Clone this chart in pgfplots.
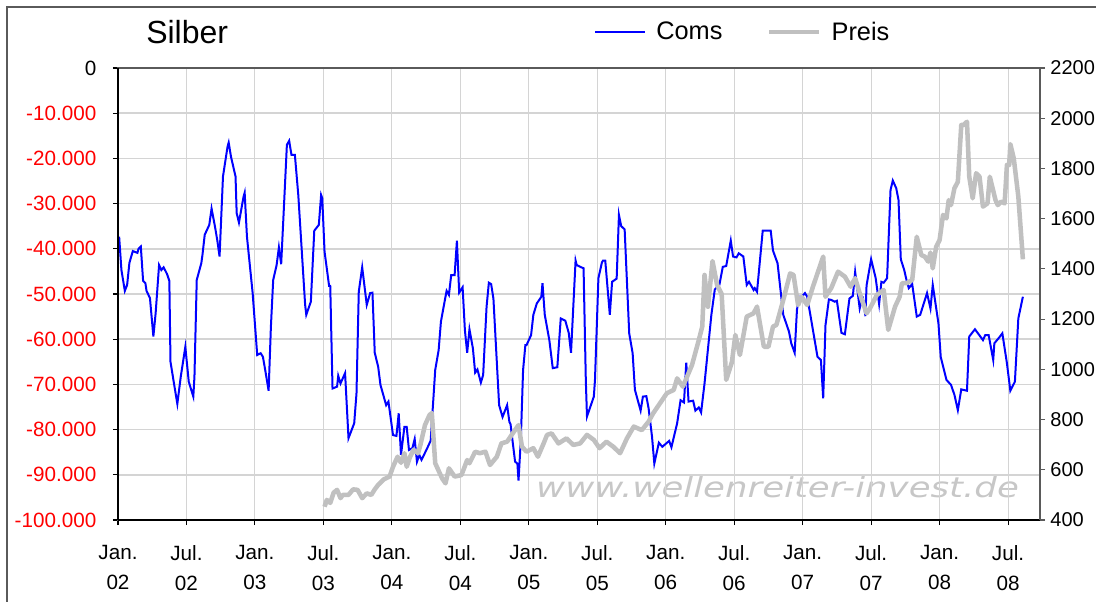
\documentclass[border=0pt]{standalone}
\usepackage{pgfplots}
\pgfplotsset{compat=1.18}
\usepackage{fontspec}
\setmainfont{Liberation Sans}
\newfontfamily\wmfont{DejaVu Sans}
\definecolor{gridgray}{RGB}{212,212,212}
\definecolor{preisgray}{RGB}{192,192,192}
\definecolor{framegray}{RGB}{90,90,90}

\begin{document}
\begin{tikzpicture}[x=0.75pt,y=0.75pt]
\useasboundingbox (0,0) rectangle (1096,601);
% outer chart frame
\draw[line width=1.3pt, framegray] (7,-20) -- (7,594) -- (1120,594);
\node[anchor=base west, inner sep=0pt, font=\fontsize{24}{28}\selectfont] at (146,557) {Silber};
\node[anchor=base, inner sep=0pt, transform shape, xscale=1.27, text=black!22,
      font=\wmfont\itshape\fontsize{21}{25}\selectfont] at (777.5,104) {www.wellenreiter-invest.de};

% Coms (left axis)
\begin{axis}[
  at={(88.5pt,60.75pt)}, anchor=south west,
  scale only axis, width=691.5pt, height=339pt,
  xmin=0, xmax=80.8, ymin=-100000, ymax=0,
  clip=false,
  xtick={0,6,...,78},
  xticklabels={{Jan.\\02},{Jul.\\02},{Jan.\\03},{Jul.\\03},{Jan.\\04},{Jul.\\04},{Jan.\\05},
    {Jul.\\05},{Jan.\\06},{Jul.\\06},{Jan.\\07},{Jul.\\07},{Jan.\\08},{Jul.\\08}},
  xticklabel style={align=center, font=\fontsize{15.5}{22.5}\selectfont, yshift=-12pt},
  ytick={-100000,-90000,...,0},
  yticklabels={\textcolor{red}{-100.000},\textcolor{red}{-90.000},\textcolor{red}{-80.000},
    \textcolor{red}{-70.000},\textcolor{red}{-60.000},\textcolor{red}{-50.000},
    \textcolor{red}{-40.000},\textcolor{red}{-30.000},\textcolor{red}{-20.000},
    \textcolor{red}{-10.000},0},
  yticklabel style={font=\fontsize{15.5}{18}\selectfont, xshift=-9pt},
  scaled y ticks=false,
  xmajorgrids, ymajorgrids,
  x grid style={gridgray, line width=0.75pt},
  y grid style={gridgray, line width=1.3pt},
  tick align=outside, xtick pos=left, ytick pos=left,
  major tick length=3.75pt,
  every tick/.style={black, line width=0.8pt},
  axis line style={draw=framegray, line width=0.8pt},
]
\addplot[blue, line width=1.5pt] coordinates {
(0.1,-37300)(0.3,-44700)(0.6,-49300)(0.8,-48000)(1.0,-43100)(1.3,-40500)(1.7,-40900)(1.8,-40000)
(2.0,-39500)(2.2,-47100)(2.4,-47600)(2.5,-49300)(2.8,-50900)(3.1,-59400)(3.3,-54200)(3.6,-43600)
(3.8,-44700)(4.0,-44100)(4.3,-45600)(4.5,-47100)(4.6,-65000)(4.9,-69700)(5.2,-74300)(5.5,-68300)
(5.9,-61700)(6.2,-69400)(6.6,-72700)(6.7,-68300)(6.9,-46900)(7.3,-43200)(7.4,-41400)(7.6,-36900)
(8.0,-34700)(8.2,-31100)(8.5,-35100)(8.7,-38100)(8.9,-41700)(9.2,-24000)(9.6,-17400)(9.7,-16500)
(9.9,-19600)(10.3,-24000)(10.4,-32100)(10.6,-34200)(11.0,-28500)(11.1,-27600)(11.3,-37300)(11.7,-47300)
(11.8,-49800)(12.2,-63500)(12.5,-63100)(12.7,-63900)(12.9,-66800)(13.2,-71400)(13.4,-57200)(13.6,-46900)
(13.9,-43600)(14.1,-39700)(14.3,-43400)(14.5,-32900)(14.8,-17000)(15.0,-16100)(15.2,-19200)(15.5,-19200)
(15.8,-28100)(16.4,-52400)(16.5,-54600)(16.9,-51700)(17.2,-36000)(17.6,-34700)(17.8,-28100)(17.9,-28800)
(18.1,-40600)(18.5,-48200)(18.6,-48200)(18.8,-70900)(19.2,-70500)(19.3,-68100)(19.5,-69800)(19.9,-67500)
(20.2,-81900)(20.7,-78600)(20.9,-72000)(21.1,-49500)(21.4,-44100)(21.8,-52400)(22.1,-49800)(22.3,-49700)
(22.5,-63000)(22.8,-66100)(23.0,-70100)(23.5,-74600)(23.7,-73800)(24.1,-81200)(24.4,-81400)(24.6,-76400)
(24.8,-85600)(25.1,-79400)(25.3,-79400)(25.5,-84500)(25.8,-84100)(26.0,-82100)(26.2,-87100)(26.4,-85600)
(26.6,-86700)(27.1,-84100)(27.3,-83000)(27.4,-82500)(27.8,-66800)(28.1,-62400)(28.3,-56100)(28.7,-50600)
(28.8,-49300)(29.0,-50200)(29.2,-45800)(29.5,-45800)(29.7,-38200)(29.9,-49700)(30.2,-48500)(30.4,-58000)
(30.6,-63000)(30.8,-57800)(31.1,-62000)(31.3,-67400)(31.5,-66700)(31.8,-69600)(32.0,-67900)(32.3,-52800)
(32.5,-47500)(32.7,-47800)(32.9,-51000)(33.4,-74600)(33.7,-77200)(34.1,-74600)(34.3,-78300)(34.4,-78800)
(34.6,-83000)(34.8,-87100)(35.0,-87500)(35.1,-91300)(35.3,-82300)(35.5,-66800)(35.7,-61300)(35.8,-61300)
(36.2,-59100)(36.4,-54600)(36.7,-52100)(37.1,-50600)(37.2,-47600)(37.4,-54600)(37.8,-60200)(38.1,-66400)
(38.5,-66200)(38.8,-55400)(39.2,-55900)(39.5,-58600)(39.7,-63000)(40.1,-42600)(40.2,-43600)(40.6,-44100)
(40.8,-44300)(41.0,-69400)(41.1,-77100)(41.7,-72700)(41.8,-69000)(42.1,-46500)(42.4,-43100)(42.5,-42600)
(42.7,-42600)(43.1,-54600)(43.3,-47300)(43.7,-46600)(43.9,-32500)(44.1,-35000)(44.4,-35700)(44.8,-58700)
(45.1,-63100)(45.3,-71200)(45.8,-75800)(46.0,-72700)(46.3,-72600)(46.5,-75300)(46.8,-81600)(47.0,-87500)
(47.4,-82900)(47.7,-83800)(48.3,-82500)(48.5,-83900)(49.0,-78600)(49.3,-73500)(49.6,-74000)(49.8,-65200)
(50.0,-73800)(50.4,-73600)(50.6,-75800)(50.9,-75100)(51.1,-76200)(51.4,-69800)(52.0,-54600)(52.3,-49000)
(52.7,-48000)(53.0,-44000)(53.3,-43800)(53.7,-38200)(53.9,-41700)(54.2,-41900)(54.4,-41000)(54.8,-41700)
(55.1,-48000)(55.3,-47300)(55.7,-49100)(55.8,-48700)(56.0,-49500)(56.5,-36000)(57.2,-36000)(57.4,-40400)
(57.8,-43200)(58.3,-54600)(58.8,-58300)(59.0,-60900)(59.3,-63000)(59.5,-53500)(59.7,-50600)(59.9,-50700)
(60.2,-49800)(60.4,-50600)(60.7,-55000)(61.3,-63900)(61.6,-64600)(61.8,-73100)(62.0,-56900)(62.3,-51200)
(62.5,-51300)(62.8,-51700)(63.0,-51500)(63.4,-58600)(63.7,-58900)(64.1,-51000)(64.4,-50400)(64.6,-45100)
(65.0,-53200)(65.1,-52200)(65.3,-51200)(65.5,-54900)(65.6,-48100)(66.0,-42300)(66.4,-46500)(66.7,-52200)
(66.9,-47300)(67.1,-47500)(67.4,-46500)(67.7,-27000)(67.9,-24900)(68.2,-26600)(68.4,-29200)(68.6,-42300)
(68.9,-44700)(69.1,-46900)(69.3,-48700)(69.6,-47800)(70.0,-55000)(70.3,-54600)(70.9,-49800)(71.2,-53200)
(71.4,-48000)(71.9,-56500)(72.1,-63900)(72.6,-69000)(73.0,-70100)(73.3,-72300)(73.6,-75700)(73.9,-71100)
(74.4,-71400)(74.6,-59400)(75.1,-57800)(75.8,-60200)(76.0,-59100)(76.3,-59100)(76.7,-64600)(76.8,-60900)
(77.2,-59700)(77.5,-58700)(77.9,-65300)(78.2,-71400)(78.6,-69400)(78.9,-55400)(79.3,-50600)
};
\draw[black, line width=1.5pt] (rel axis cs:0,0) -- (rel axis cs:0,1);
\draw[black, line width=2.2pt] (rel axis cs:0,0) -- (rel axis cs:1,0);
\end{axis}

% Preis (right axis)
\begin{axis}[
  at={(88.5pt,60.75pt)}, anchor=south west,
  scale only axis, width=691.5pt, height=339pt,
  xmin=0, xmax=80.8, ymin=400, ymax=2200,
  axis y line*=right, axis x line=none,
  ytick={400,600,...,2200},
  /pgf/number format/1000 sep={},
  /pgf/number format/assume math mode=true,
  yticklabel style={font=\fontsize{15}{18}\selectfont, xshift=0.5pt},
  tick align=outside, major tick length=3.75pt,
  every tick/.style={framegray, line width=0.8pt},
  axis line style={draw=framegray, line width=0.8pt},
  legend columns=2,
  legend image code/.code={\draw[#1] (0pt,0pt) -- (37.5pt,0pt);},
  legend style={at={(0.5163,1.0796)}, anchor=west, draw=none, fill=none, inner sep=0pt,
    font=\fontsize{19}{22}\selectfont, nodes={inner sep=0pt},
    /tikz/every odd column/.append style={column sep=7.5pt},
    /tikz/every even column/.append style={column sep=33.5pt}},
]
\addlegendimage{blue, line width=1.5pt}
\addlegendentry{Coms}
\addplot[preisgray, line width=3.4pt, line join=round] coordinates {
(18.1,453)(18.3,480)(18.6,468)(18.9,509)(19.2,520)(19.5,487)(19.7,500)(20.2,500)(20.6,522)(21.0,520)
(21.4,487)(21.8,506)(22.2,500)(22.5,522)(22.8,540)(23.3,562)(23.8,573)(24.1,612)(24.5,652)(24.8,628)
(25.1,666)(25.3,612)(25.6,652)(25.9,679)(26.3,666)(26.5,699)(26.9,778)(27.3,818)(27.5,826)(27.8,626)
(28.4,566)(28.7,546)(29.0,606)(29.5,573)(30.1,579)(30.6,639)(30.8,626)(31.3,672)(31.7,666)(32.2,672)
(32.6,619)(33.2,652)(33.6,705)(34.1,712)(34.5,739)(35.1,778)(35.4,692)(35.8,672)(36.4,686)(36.8,652)
(37.3,705)(37.6,739)(38.0,745)(38.6,705)(39.3,725)(39.9,699)(40.5,705)(41.1,739)(41.7,719)(42.2,686)
(42.8,712)(43.4,692)(44.0,666)(44.6,725)(45.2,772)(45.9,758)(46.5,792)(46.9,825)(47.5,865)(48.1,905)
(48.7,918)(49.0,964)(49.5,931)(50.3,1017)(50.9,1117)(51.2,1170)(51.4,1376)(51.7,1249)(52.1,1431)(52.5,1336)
(52.9,1300)(53.3,958)(53.8,1029)(54.1,1137)(54.5,1057)(55.1,1210)(55.7,1223)(56.0,1250)(56.3,1170)(56.6,1090)
(57.0,1090)(57.4,1170)(57.7,1177)(58.3,1276)(58.9,1382)(59.2,1376)(59.6,1256)(59.9,1289)(60.4,1256)(60.9,1329)
(61.2,1369)(61.8,1449)(62.0,1289)(62.5,1323)(63.1,1389)(63.7,1369)(64.2,1329)(64.6,1363)(65.0,1303)(65.6,1223)
(65.9,1243)(66.5,1296)(67.1,1316)(67.5,1157)(68.1,1250)(68.5,1289)(68.7,1343)(69.1,1343)(69.6,1356)(70.0,1528)
(70.4,1455)(70.7,1449)(71.0,1429)(71.2,1465)(71.4,1402)(71.7,1488)(72.0,1515)(72.3,1615)(72.6,1601)(72.8,1674)
(73.0,1654)(73.3,1721)(73.6,1747)(73.9,1973)(74.1,1973)(74.4,1986)(74.6,1767)(74.9,1681)(75.2,1781)(75.5,1767)
(75.8,1648)(76.2,1661)(76.4,1767)(76.9,1674)(77.1,1654)(77.4,1668)(77.7,1661)(77.9,1814)(78.1,1814)(78.2,1897)
(78.5,1840)(78.9,1688)(79.3,1438)
};
\addlegendentry{Preis}
\end{axis}
\end{tikzpicture}
\end{document}
